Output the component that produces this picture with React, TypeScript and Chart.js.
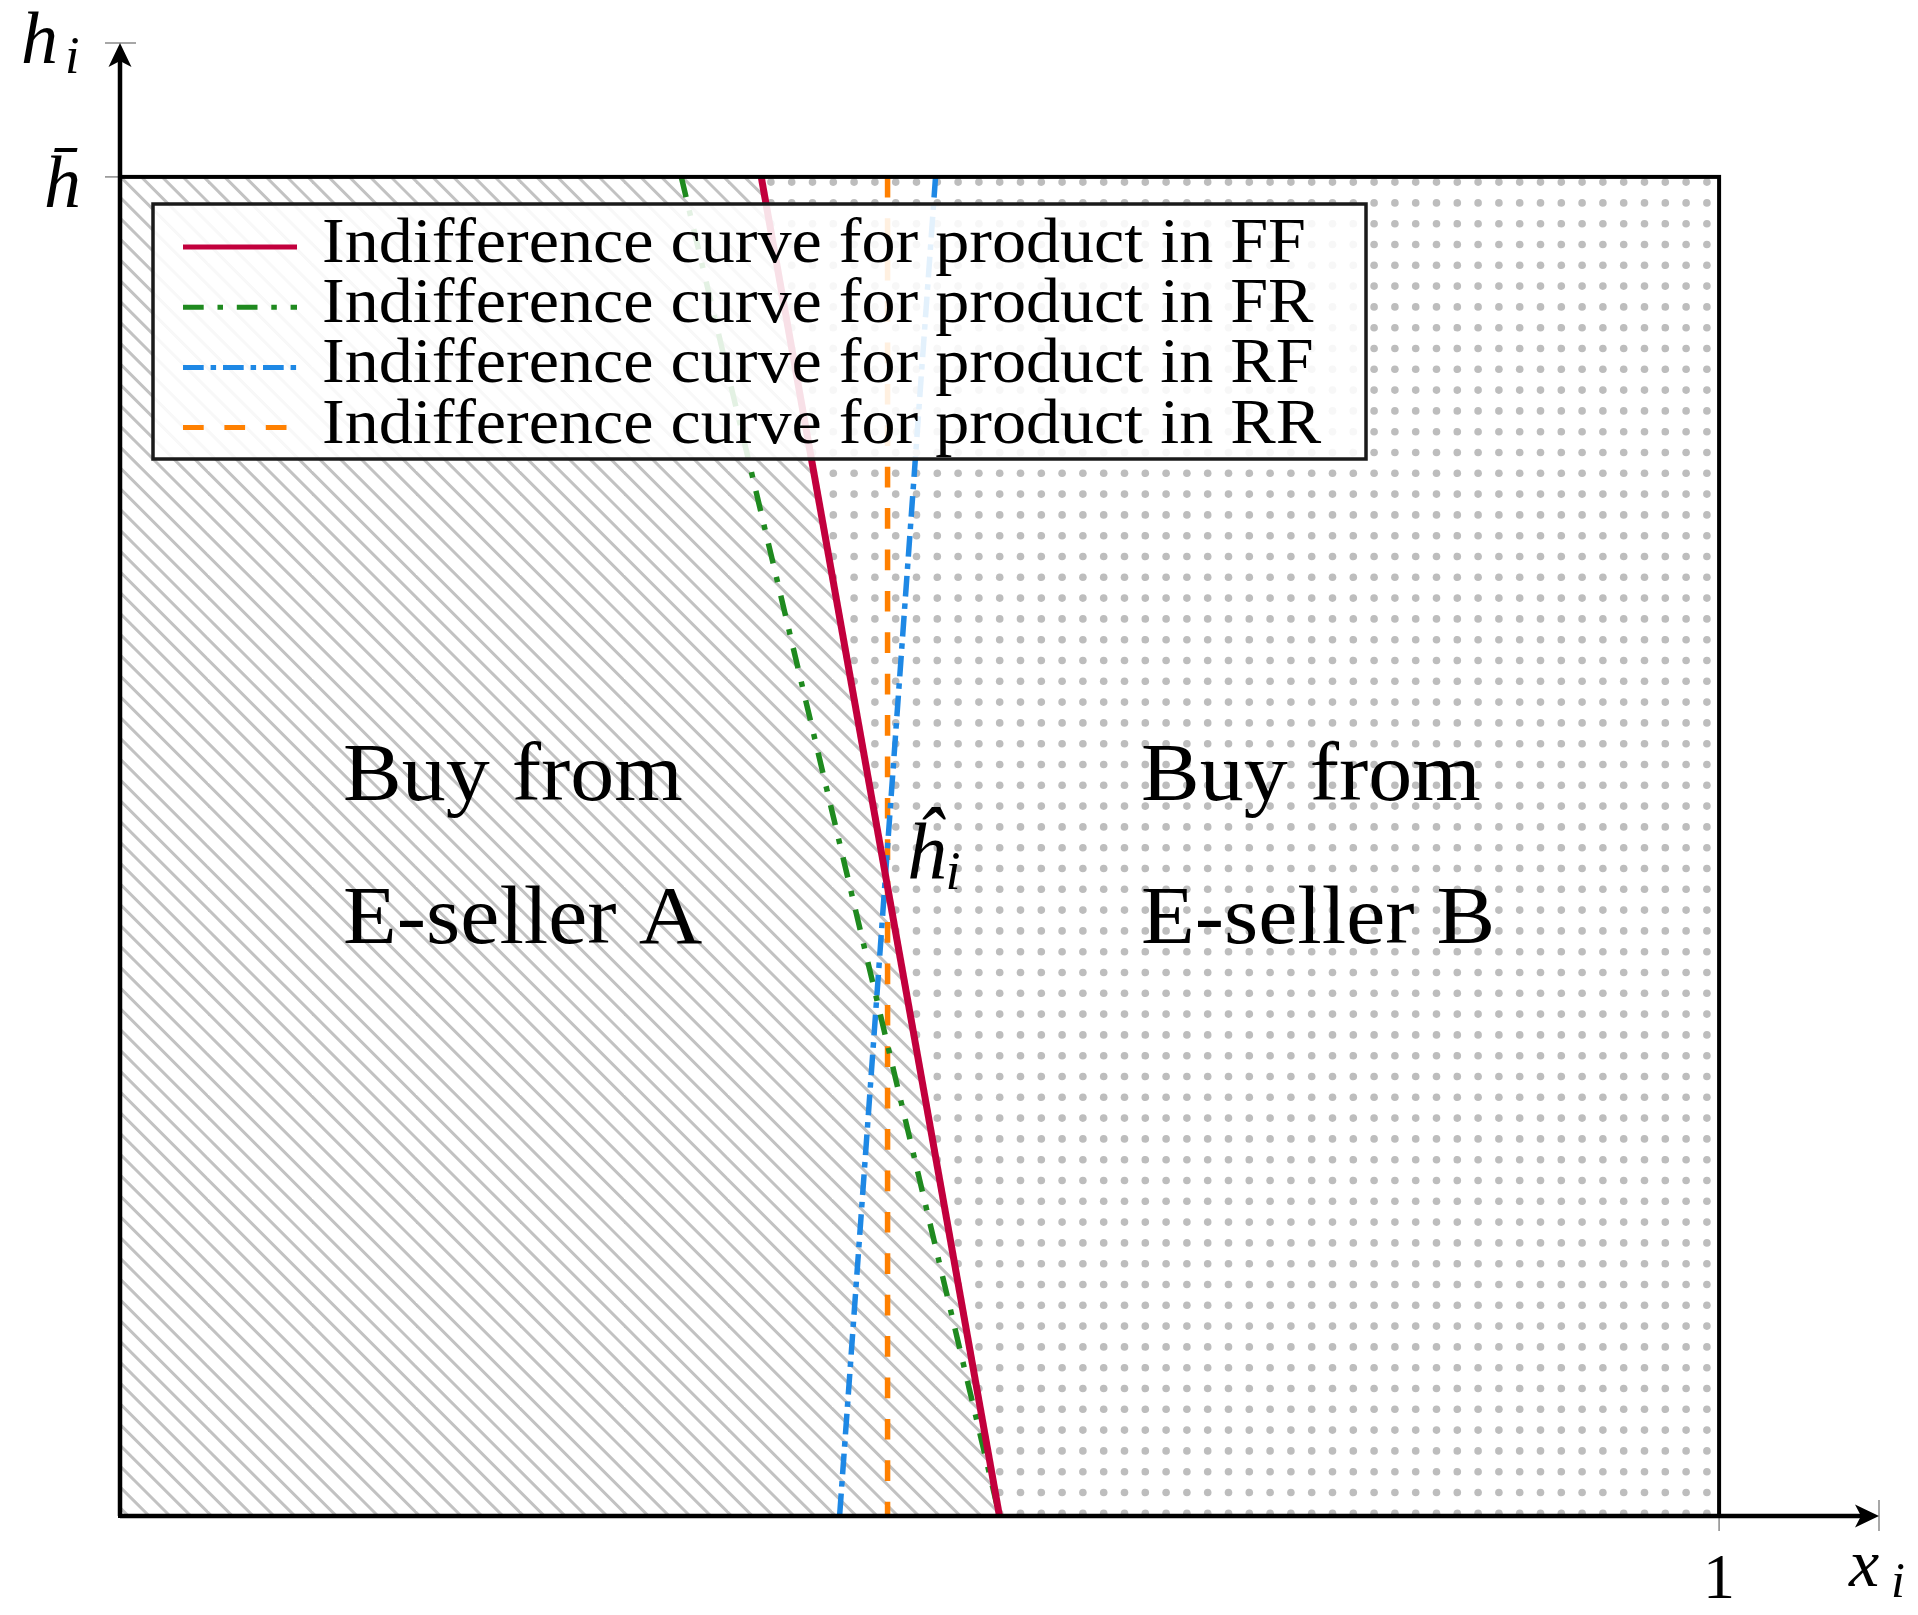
import React, { useEffect, useRef } from 'react';
import { Chart, registerables } from 'chart.js';

Chart.register(...registerables);

// ---------- data ----------
const curveLabels = [
  'Indifference curve for product in FF',
  'Indifference curve for product in FR',
  'Indifference curve for product in RF',
  'Indifference curve for product in RR',
];
// each curve: x values at h = hBar (1) and at h = 0
const ffX = [0.401, 0.55];
const ffH = [1, 0];
const frX = [0.351, 0.55];
const frH = [1, 0];
const rfX = [0.51, 0.45];
const rfH = [1, 0];
const rrX = [0.48, 0.48];
const rrH = [1, 0];

const xTickValues = [1, 1.1];
const xTickLabels = ['1', ''];
const yTickValues = [1, 1.1];
const yTickLabels = ['h\u0304', ''];
const axisMin = 0;
const axisMax = 1.1;
const boxMax = 1; // x = 1 and h = h-bar

const regionTextA = ['Buy from', 'E-seller A'];
const regionTextB = ['Buy from', 'E-seller B'];
const hatLabel = '\u0125';
const hatSub = 'i';

// ---------- styles ----------
const COLORS = ['#C2003D', '#1F8A1F', '#1E88E5', '#FF8000'];
const DASHES: number[][] = [[], [20.7, 13.8, 5.5, 13.8], [20.7, 6.9, 5.5, 6.9], [20.7, 20.7]];
const WIDTHS = [7, 5.5, 5.5, 5.5];
const FONT = '"Liberation Serif", "Times New Roman", serif';

const pts = (xs: number[], hs: number[]) => xs.map((x, i) => ({ x, y: hs[i] }));

function makeHatch(ctx: CanvasRenderingContext2D) {
  const c = document.createElement('canvas');
  c.width = 104;
  c.height = 104;
  const g = c.getContext('2d')!;
  g.strokeStyle = '#c2c2c2';
  g.lineWidth = 3;
  for (let k = -8; k <= 8; k++) {
    const c0 = 6 + 20.8 * k;
    g.beginPath();
    g.moveTo(c0 - 20, -20);
    g.lineTo(c0 + 124, 124);
    g.stroke();
  }
  return ctx.createPattern(c, 'repeat')!;
}

function makeDots(ctx: CanvasRenderingContext2D) {
  const c = document.createElement('canvas');
  c.width = 104;
  c.height = 104;
  const g = c.getContext('2d')!;
  g.fillStyle = '#bdbdbd';
  for (let i = -1; i <= 5; i++) {
    for (let j = -1; j <= 5; j++) {
      g.beginPath();
      g.arc(1.3 + 20.8 * i, 15.7 + 20.8 * j, 3.8, 0, Math.PI * 2);
      g.fill();
    }
  }
  return ctx.createPattern(c, 'repeat')!;
}

function drawText(
  ctx: CanvasRenderingContext2D,
  s: string,
  x: number,
  y: number,
  size: number,
  opts: { italic?: boolean; align?: 'left' | 'center' | 'right'; sx?: number } = {}
) {
  const sx = opts.sx ?? 1;
  ctx.save();
  ctx.font = `${opts.italic ? 'italic ' : ''}${size}px ${FONT}`;
  ctx.fillStyle = '#000';
  ctx.textBaseline = 'alphabetic';
  ctx.textAlign = 'left';
  const w = ctx.measureText(s).width * sx;
  const x0 = opts.align === 'center' ? x - w / 2 : opts.align === 'right' ? x - w : x;
  ctx.translate(x0, y);
  ctx.scale(sx, 1);
  ctx.fillText(s, 0, 0);
  ctx.restore();
}

function arrowHead(ctx: CanvasRenderingContext2D, tx: number, ty: number, dx: number, dy: number) {
  const len = 24;
  const half = 11.5;
  const notch = 6;
  const bx = tx - dx * len;
  const by = ty - dy * len;
  const px = -dy;
  const py = dx;
  ctx.beginPath();
  ctx.moveTo(tx, ty);
  ctx.lineTo(bx + px * half, by + py * half);
  ctx.lineTo(tx - dx * (len - notch), ty - dy * (len - notch));
  ctx.lineTo(bx - px * half, by - py * half);
  ctx.closePath();
  ctx.fill();
}

const decorPlugin = {
  id: 'decor',
  afterDatasetsDraw(chart: any) {
    const ctx: CanvasRenderingContext2D = chart.ctx;
    const xs = chart.scales.x;
    const ys = chart.scales.y;
    const X = (v: number) => xs.getPixelForValue(v);
    const Y = (v: number) => ys.getPixelForValue(v);
    ctx.save();

    // gray tick marks
    ctx.strokeStyle = '#8a8a8a';
    ctx.lineWidth = 1.5;
    yTickValues.forEach((v) => {
      ctx.beginPath();
      ctx.moveTo(X(0) - 15, Y(v));
      ctx.lineTo(X(0) + 16, Y(v));
      ctx.stroke();
    });
    xTickValues.forEach((v) => {
      ctx.beginPath();
      ctx.moveTo(X(v), Y(0) - 16);
      ctx.lineTo(X(v), Y(0) + 15);
      ctx.stroke();
    });

    // frame
    ctx.strokeStyle = '#000';
    ctx.lineWidth = 4;
    ctx.strokeRect(X(0), Y(boxMax), X(boxMax) - X(0), Y(0) - Y(boxMax));

    // axes
    ctx.lineWidth = 4.5;
    ctx.beginPath();
    ctx.moveTo(X(0), Y(0));
    ctx.lineTo(X(0), Y(axisMax) + 18);
    ctx.moveTo(X(0), Y(0));
    ctx.lineTo(X(axisMax) - 18, Y(0));
    ctx.stroke();
    ctx.fillStyle = '#000';
    arrowHead(ctx, X(0), Y(axisMax), 0, -1);
    arrowHead(ctx, X(axisMax), Y(0), 1, 0);

    // tick labels
    yTickValues.forEach((v, i) => {
      if (yTickLabels[i]) drawText(ctx, yTickLabels[i], X(0) - 76, Y(v) + 30, 74, { italic: true });
    });
    xTickValues.forEach((v, i) => {
      if (xTickLabels[i]) drawText(ctx, xTickLabels[i], X(v), Y(0) + 82, 64, { align: 'center' });
    });

    // axis labels
    drawText(ctx, 'h', X(0) - 99, Y(axisMax) + 20, 74, { italic: true });
    drawText(ctx, 'i', X(0) - 55, Y(axisMax) + 30, 52, { italic: true });
    drawText(ctx, 'x', X(axisMax) - 30, Y(0) + 70, 68, { italic: true });
    drawText(ctx, 'i', X(axisMax) + 12, Y(0) + 81, 50, { italic: true });

    // region labels
    const sxR = 1.06;
    drawText(ctx, regionTextA[0], X(0.1395), Y(0.5347), 83, { sx: sxR });
    drawText(ctx, regionTextA[1], X(0.1395), Y(0.428), 83, { sx: sxR });
    drawText(ctx, regionTextB[0], X(0.6385), Y(0.5347), 83, { sx: sxR });
    drawText(ctx, regionTextB[1], X(0.6385), Y(0.428), 83, { sx: sxR });

    // h-hat at the intersection of FF and RR
    const xi = rrX[0];
    const t = (ffX[1] - xi) / (ffX[1] - ffX[0]);
    const hi = ffH[1] + t * (ffH[0] - ffH[1]);
    drawText(ctx, hatLabel, X(xi) + 18, Y(hi) - 9, 80, { italic: true });
    drawText(ctx, hatSub, X(xi) + 58, Y(hi) + 2, 54, { italic: true });

    ctx.restore();
  },
  afterDraw(chart: any) {
    const ctx: CanvasRenderingContext2D = chart.ctx;
    ctx.save();
    const bx = 153, by = 204, bw = 1366 - 153, bh = 459 - 204;
    ctx.fillStyle = 'rgba(255,255,255,0.88)';
    ctx.fillRect(bx, by, bw, bh);
    ctx.strokeStyle = '#1a1a1a';
    ctx.lineWidth = 3.5;
    ctx.strokeRect(bx, by, bw, bh);
    ctx.font = `63px ${FONT}`;
    const sx = 984 / ctx.measureText(curveLabels[0]).width;
    curveLabels.forEach((label, i) => {
      const rowY = 247 + 60.2 * i;
      ctx.save();
      ctx.strokeStyle = COLORS[i];
      ctx.lineWidth = 5;
      ctx.setLineDash(DASHES[i]);
      ctx.beginPath();
      ctx.moveTo(183, rowY);
      ctx.lineTo(297, rowY);
      ctx.stroke();
      ctx.restore();
      drawText(ctx, label, 322, 262 + 60.2 * i, 63, { sx });
    });
    ctx.restore();
  },
};

export default function App() {
  const ref = useRef<HTMLCanvasElement | null>(null);
  useEffect(() => {
    const canvas = ref.current!;
    const ctx = canvas.getContext('2d')!;
    const hatch = makeHatch(ctx);
    const dots = makeDots(ctx);
    const curves = [pts(ffX, ffH), pts(frX, frH), pts(rfX, rfH), pts(rrX, rrH)];
    const regionA = [
      { x: 0, y: 0 },
      { x: 0, y: ffH[0] },
      { x: ffX[0], y: ffH[0] },
      { x: ffX[1], y: ffH[1] },
    ];
    const regionB = [
      { x: ffX[0], y: ffH[0] },
      { x: ffX[1], y: ffH[1] },
      { x: boxMax, y: 0 },
      { x: boxMax, y: boxMax },
    ];
    const chart = new Chart(canvas, {
      type: 'line',
      data: {
        datasets: [
          ...curves.map((d, i) => ({
            label: curveLabels[i],
            data: d,
            borderColor: COLORS[i],
            borderWidth: WIDTHS[i],
            borderDash: DASHES[i],
            pointRadius: 0,
            fill: false,
            tension: 0,
            order: i,
          })),
          {
            label: 'A region',
            data: regionA,
            borderWidth: 0,
            pointRadius: 0,
            backgroundColor: hatch,
            fill: 'shape',
            order: 20,
          },
          {
            label: 'B region',
            data: regionB,
            borderWidth: 0,
            pointRadius: 0,
            backgroundColor: dots,
            fill: 'shape',
            order: 21,
          },
        ],
      },
      options: {
        animation: false,
        responsive: false,
        maintainAspectRatio: false,
        events: [],
        layout: { padding: { left: 120, right: 39, top: 43, bottom: 99 } },
        scales: {
          x: { type: 'linear', min: axisMin, max: axisMax, display: false },
          y: { type: 'linear', min: axisMin, max: axisMax, display: false },
        },
        plugins: { legend: { display: false }, tooltip: { enabled: false } },
      } as any,
      plugins: [decorPlugin],
    } as any);
    return () => chart.destroy();
  }, []);
  return (
    <div style={{ position: 'fixed', left: 0, top: 0, width: 1918, height: 1615, background: '#fff' }}>
      <canvas ref={ref} width={1918} height={1615} style={{ display: 'block' }} />
    </div>
  );
}
